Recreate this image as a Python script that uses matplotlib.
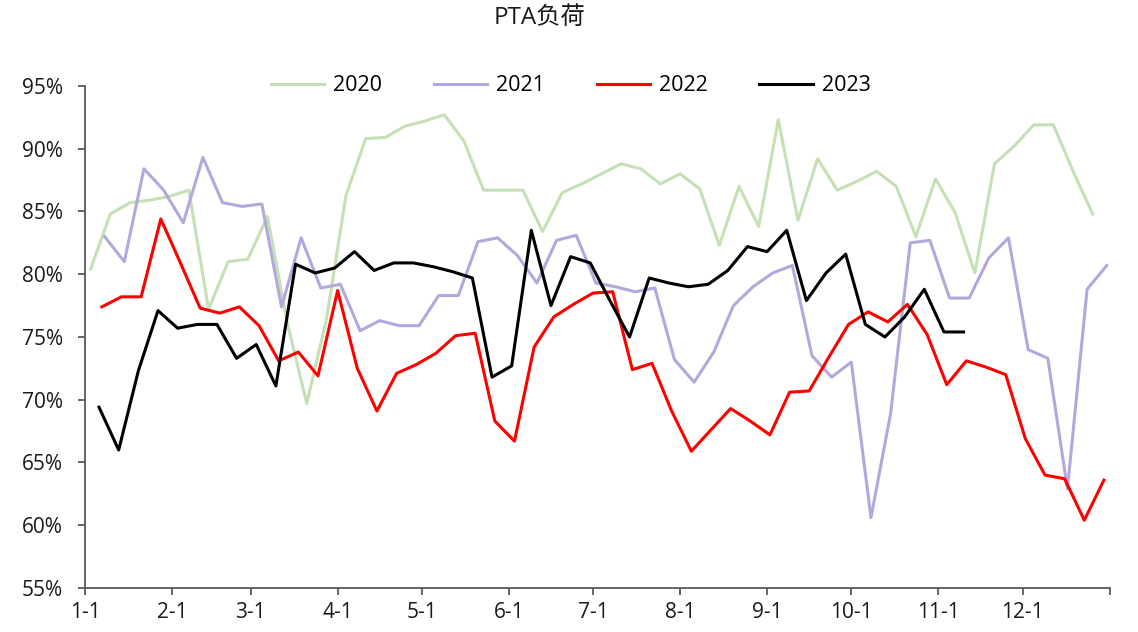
import datetime as dt
import matplotlib
matplotlib.use("Agg")
import matplotlib.pyplot as plt
from matplotlib.ticker import FuncFormatter

plt.rcParams['font.family'] = ['Open Sans', 'Noto Sans CJK SC', 'DejaVu Sans']

# weekly PTA load (%), one list per year
load_2020 = [80.4, 84.8, 85.7, 85.9, 86.2, 86.7, 77.2, 81.0, 81.2, 84.6,
             76.2, 69.7, 76.4, 86.3, 90.8, 90.9, 91.8, 92.2, 92.7, 90.6,
             86.7, 86.7, 86.7, 83.4, 86.5, 87.2, 88.0, 88.8, 88.4, 87.2,
             88.0, 86.8, 82.3, 87.0, 83.8, 92.3, 84.3, 89.2, 86.7, 87.4,
             88.2, 87.0, 83.0, 87.6, 84.9, 80.1, 88.8, 90.2, 91.9, 91.9,
             88.2, 84.8]
load_2021 = [83.0, 81.0, 88.4, 86.7, 84.1, 89.3, 85.7, 85.4, 85.6, 77.4,
             82.9, 78.9, 79.2, 75.5, 76.3, 75.9, 75.9, 78.3, 78.3, 82.6,
             82.9, 81.5, 79.3, 82.7, 83.1, 79.3, 79.0, 78.6, 78.9, 73.2,
             71.4, 73.8, 77.5, 79.0, 80.1, 80.7, 73.5, 71.8, 73.0, 60.6,
             68.9, 82.5, 82.7, 78.1, 78.1, 81.3, 82.9, 74.0, 73.3, 62.9,
             78.8, 80.7]
load_2022 = [77.4, 78.2, 78.2, 84.4, 80.9, 77.3, 76.9, 77.4, 75.9, 73.1,
             73.8, 71.9, 78.7, 72.5, 69.1, 72.1, 72.8, 73.7, 75.1, 75.3,
             68.3, 66.7, 74.2, 76.6, 77.6, 78.5, 78.6, 72.4, 72.9, 69.1,
             65.9, 67.6, 69.3, 68.3, 67.2, 70.6, 70.7, 73.4, 76.0, 77.0,
             76.2, 77.6, 75.2, 71.2, 73.1, 72.6, 72.0, 66.9, 64.0, 63.7,
             60.4, 63.6]
load_2023 = [69.4, 66.0, 72.3, 77.1, 75.7, 76.0, 76.0, 73.3, 74.4, 71.1,
             80.8, 80.1, 80.5, 81.8, 80.3, 80.9, 80.9, 80.6, 80.2, 79.7,
             71.8, 72.7, 83.5, 77.5, 81.4, 80.9, 77.9, 75.0, 79.7, 79.3,
             79.0, 79.2, 80.3, 82.2, 81.8, 83.5, 77.9, 80.1, 81.6, 76.0,
             75.0, 76.6, 78.8, 75.4, 75.4]

# first weekly date of each year
first_day = {"2020": dt.date(2020, 1, 3), "2021": dt.date(2021, 1, 8),
             "2022": dt.date(2022, 1, 7), "2023": dt.date(2023, 1, 6)}
series = {"2020": load_2020, "2021": load_2021, "2022": load_2022, "2023": load_2023}
colors = {"2020": "#C5E0B4", "2021": "#B4A7DE", "2022": "#FF0000", "2023": "#000000"}

month_labels = ["1-1", "2-1", "3-1", "4-1", "5-1", "6-1",
                "7-1", "8-1", "9-1", "10-1", "11-1", "12-1"]


def day_of_year(d):
    return (d - dt.date(d.year, 1, 1)).days


fig = plt.figure(figsize=(11.38, 6.32), dpi=100)
ax = fig.add_axes([0.0747, 0.0696, 0.9003, 0.7944])

for year, values in series.items():
    start = first_day[year]
    days = [day_of_year(start + dt.timedelta(days=7 * i)) for i in range(len(values))]
    ax.plot(days, values, color=colors[year], lw=2.2, label=year)

month_starts = [day_of_year(dt.date(2023, m, 1)) for m in range(1, 13)]
ax.set_xlim(0, 365)
ax.set_xticks(month_starts + [365])
ax.set_xticklabels(month_labels + [""])
ax.set_ylim(55, 95)
ax.set_yticks(range(55, 96, 5))
ax.yaxis.set_major_formatter(FuncFormatter(lambda v, _: f"{v:.0f}%"))

for side in ["top", "right"]:
    ax.spines[side].set_visible(False)
for side in ["left", "bottom"]:
    ax.spines[side].set_color("#595959")
    ax.spines[side].set_linewidth(1.3)
ax.tick_params(axis="both", direction="out", length=5, width=1.3,
               color="#595959", labelsize=15, labelcolor="#1a1a1a")
ax.tick_params(axis="y", pad=11)
ax.tick_params(axis="x", pad=5)

ax.legend(loc="center", bbox_to_anchor=(0.474, 1.0), ncol=4, frameon=False,
          fontsize=15.5, handlelength=2.5, handletextpad=0.4, columnspacing=2.4)

fig.text(0.4745, 0.971, "PTA负荷", ha="center", va="center", fontsize=17.5, color="#1a1a1a")

fig.savefig("out.png", dpi=100)
